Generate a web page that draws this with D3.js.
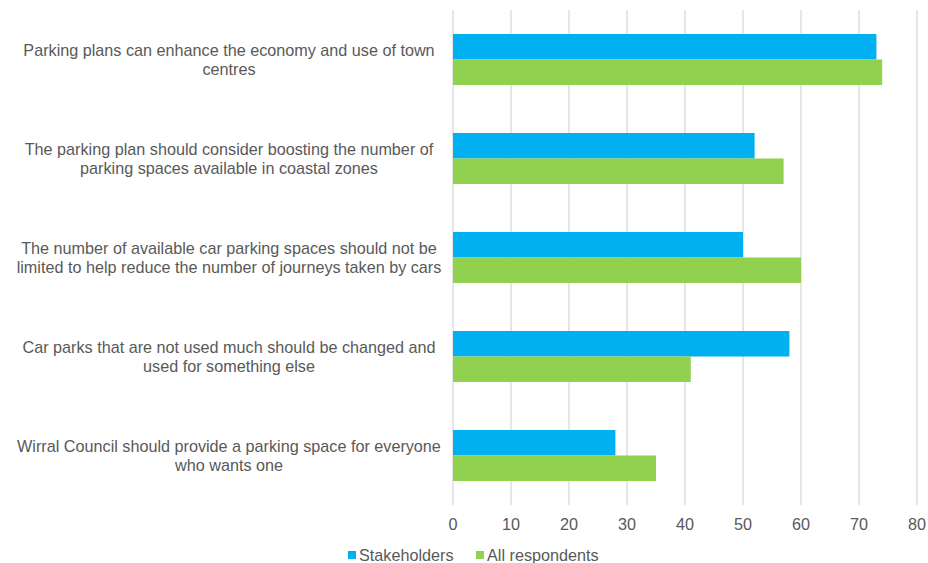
<!DOCTYPE html>
<html><head><meta charset="utf-8">
<script src="https://cdn.jsdelivr.net/npm/d3@7"></script>
<style>body{margin:0;background:#fff}svg{display:block}text{font-family:"Liberation Sans",Arial,sans-serif}</style>
</head><body><svg id="c" width="928" height="563"></svg>
<script>
const categories = [
  ["Parking plans can enhance the economy and use of town", "centres"],
  ["The parking plan should consider boosting the number of", "parking spaces available in coastal zones"],
  ["The number of available car parking spaces should not be", "limited to help reduce the number of journeys taken by cars"],
  ["Car parks that are not used much should be changed and", "used for something else"],
  ["Wirral Council should provide a parking space for everyone", "who wants one"]
];
const seriesNames = ["Stakeholders", "All respondents"];
const stakeholders = [73, 52, 50, 58, 28];
const allRespondents = [74, 57, 60, 41, 35];
const ticks = [0, 10, 20, 30, 40, 50, 60, 70, 80];
const colors = ["#00b0f0", "#92d050"];

const svg = d3.select("#c");
const pLeft = 453, pRight = 917, pTop = 10, pBottom = 505;
const x = d3.scaleLinear().domain([0, 80]).range([pLeft, pRight]);
const y = d3.scaleBand().domain(d3.range(categories.length)).range([pTop, pBottom]).paddingInner(0.485).paddingOuter(0.2425);
const sub = d3.scaleBand().domain([0, 1]).range([0, y.bandwidth()]);

svg.append("g").selectAll("line").data(ticks).join("line")
  .attr("x1", d => x(d)).attr("x2", d => x(d)).attr("y1", pTop).attr("y2", pBottom)
  .attr("stroke", "#d9d9d9").attr("stroke-width", 1.3);

const series = [stakeholders, allRespondents];
series.forEach((vals, si) => {
  svg.append("g").selectAll("rect").data(vals).join("rect")
    .attr("x", x(0)).attr("y", (d, i) => y(i) + sub(si))
    .attr("width", d => x(d) - x(0)).attr("height", sub.bandwidth())
    .attr("fill", colors[si]);
});

const fs = 16.2;
const lab = svg.append("g").selectAll("text").data(categories).join("text")
  .attr("text-anchor", "middle").attr("fill", "#595959").attr("font-size", fs)
  .attr("x", 229).attr("y", (d, i) => y(i) + y.bandwidth() / 2 - 4);
lab.selectAll("tspan").data(d => d).join("tspan")
  .attr("x", 229).attr("dy", (d, j) => j === 0 ? 0 : 19).text(d => d);

svg.append("g").selectAll("text").data(ticks).join("text")
  .attr("x", d => x(d)).attr("y", 530).attr("text-anchor", "middle")
  .attr("fill", "#595959").attr("font-size", fs).text(d => d);

const leg = svg.append("g");
const legX = [348, 476];
seriesNames.forEach((n, i) => {
  leg.append("rect").attr("x", legX[i]).attr("y", 551).attr("width", 8).attr("height", 8).attr("fill", colors[i]);
  leg.append("text").attr("x", legX[i] + 11).attr("y", 561).attr("fill", "#595959").attr("font-size", fs).text(n);
});
</script></body></html>
